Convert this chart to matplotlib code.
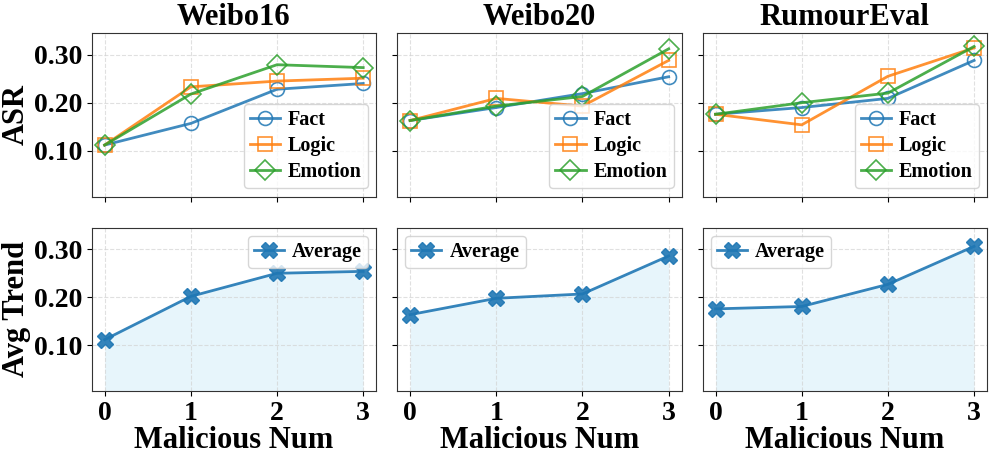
import matplotlib
matplotlib.use("Agg")
import matplotlib.pyplot as plt
import numpy as np

plt.rcParams['font.family'] = ['Liberation Serif', 'DejaVu Serif']
plt.rcParams['font.weight'] = 'bold'

malicious = [0, 1, 2, 3]
datasets = ['Weibo16', 'Weibo20', 'RumourEval']

fact = {
    'Weibo16': [0.112, 0.157, 0.228, 0.240],
    'Weibo20': [0.163, 0.190, 0.219, 0.254],
    'RumourEval': [0.176, 0.190, 0.209, 0.288],
}
logic = {
    'Weibo16': [0.112, 0.233, 0.245, 0.251],
    'Weibo20': [0.163, 0.209, 0.193, 0.288],
    'RumourEval': [0.176, 0.154, 0.255, 0.314],
}
emotion = {
    'Weibo16': [0.112, 0.218, 0.279, 0.273],
    'Weibo20': [0.163, 0.193, 0.213, 0.312],
    'RumourEval': [0.176, 0.200, 0.220, 0.317],
}
average = {
    'Weibo16': [0.112, 0.202, 0.250, 0.254],
    'Weibo20': [0.164, 0.198, 0.207, 0.286],
    'RumourEval': [0.176, 0.181, 0.227, 0.306],
}
avg_legend_loc = {'Weibo16': 'upper right', 'Weibo20': 'upper left', 'RumourEval': 'upper left'}

fig, axes = plt.subplots(2, 3, figsize=(9.97, 4.58), dpi=100, sharex=True, sharey=True)
fig.subplots_adjust(left=0.092, right=0.99, top=0.928, bottom=0.146, hspace=0.19, wspace=0.074)

leg_font = {'weight': 'bold', 'size': 14.5}
leg_kw = dict(prop=leg_font, handlelength=1.5, handletextpad=0.4, borderpad=0.3,
              labelspacing=0.3, borderaxespad=0.4)

for j, name in enumerate(datasets):
    ax = axes[0, j]
    ax.plot(malicious, fact[name], '-o', color='C0', lw=2, ms=10, mfc='none', mew=1.2, label='Fact', alpha=0.85)
    ax.plot(malicious, logic[name], '-s', color='C1', lw=2, ms=10, mfc='none', mew=1.2, label='Logic', alpha=0.85)
    ax.plot(malicious, emotion[name], '-D', color='C2', lw=2, ms=10, mfc='none', mew=1.2, label='Emotion', alpha=0.85)
    ax.set_title(name, fontsize=22, fontweight='bold')
    ax.legend(loc='lower right', **leg_kw)

    ax2 = axes[1, j]
    ax2.plot(malicious, average[name], '-X', color='C0', lw=2, ms=11, alpha=0.9, label='Average')
    ax2.fill_between(malicious, average[name], 0, color='skyblue', alpha=0.2, lw=0)
    ax2.legend(loc=avg_legend_loc[name], **leg_kw)
    ax2.set_xlabel('Malicious Num', fontsize=22, fontweight='bold', labelpad=0)

for ax in axes.flat:
    ax.grid(True, linestyle='--', color='lightgray', alpha=0.7, lw=0.8)
    ax.set_xlim(-0.15, 3.15)
    ax.set_ylim(0.005, 0.345)
    ax.set_xticks(malicious)
    ax.set_yticks([0.10, 0.20, 0.30])
    ax.set_yticklabels(['0.10', '0.20', '0.30'])
    ax.tick_params(labelsize=20)
    for s in ax.spines.values():
        s.set_color('#333333')
    for lab in ax.get_xticklabels() + ax.get_yticklabels():
        lab.set_fontweight('bold')

axes[0, 0].set_ylabel('ASR', fontsize=22, fontweight='bold', labelpad=2)
axes[1, 0].set_ylabel('Avg Trend', fontsize=22, fontweight='bold', labelpad=2)

fig.savefig('out.png', dpi=100)
